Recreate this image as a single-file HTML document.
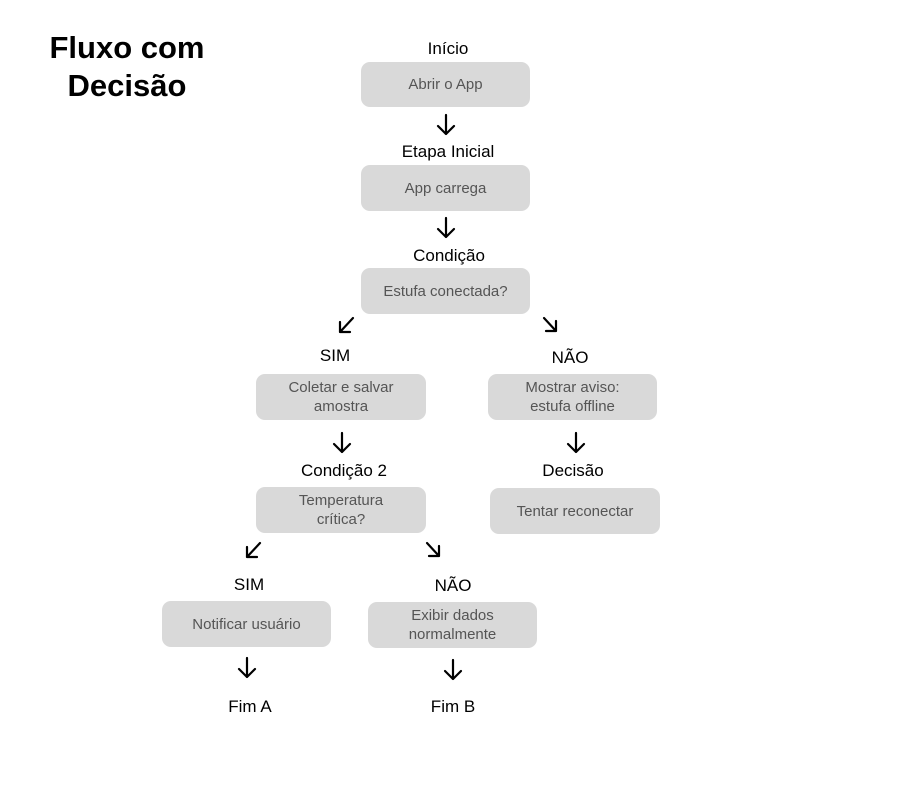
<!DOCTYPE html>
<html><head><meta charset="utf-8"><style>
body{margin:0;width:916px;height:794px;background:#fff;position:relative;overflow:hidden;font-family:"Liberation Sans",sans-serif}
.t{position:absolute;font-size:31px;font-weight:bold;line-height:38px;text-align:center;left:27px;width:200px;top:29px;color:#000}
.b{position:absolute;background:#d9d9d9;border-radius:9px;color:#555;font-size:15px;line-height:19px;display:flex;align-items:center;justify-content:center;text-align:center}
.l{position:absolute;font-size:17px;color:#000;transform:translate(-50%,-50%);white-space:nowrap}
svg{position:absolute;left:0;top:0}
</style></head><body>
<div class="t">Fluxo com<br>Decisão</div>
<div class="l" style="left:448px;top:49px">Início</div>
<div class="b" style="left:361px;top:62px;width:169px;height:45px">Abrir o App</div>
<div class="l" style="left:448px;top:152px">Etapa Inicial</div>
<div class="b" style="left:361px;top:165px;width:169px;height:46px">App carrega</div>
<div class="l" style="left:449px;top:256px">Condição</div>
<div class="b" style="left:361px;top:268px;width:169px;height:46px">Estufa conectada?</div>
<div class="l" style="left:335px;top:356px">SIM</div>
<div class="l" style="left:570px;top:358px">NÃO</div>
<div class="b" style="left:256px;top:374px;width:170px;height:46px">Coletar e salvar<br>amostra</div>
<div class="b" style="left:488px;top:374px;width:169px;height:46px">Mostrar aviso:<br>estufa offline</div>
<div class="l" style="left:344px;top:471px">Condição 2</div>
<div class="l" style="left:573px;top:471px">Decisão</div>
<div class="b" style="left:256px;top:487px;width:170px;height:46px">Temperatura<br>crítica?</div>
<div class="b" style="left:490px;top:488px;width:170px;height:46px">Tentar reconectar</div>
<div class="l" style="left:249px;top:585px">SIM</div>
<div class="l" style="left:453px;top:586px">NÃO</div>
<div class="b" style="left:162px;top:601px;width:169px;height:46px">Notificar usuário</div>
<div class="b" style="left:368px;top:602px;width:169px;height:46px">Exibir dados<br>normalmente</div>
<div class="l" style="left:250px;top:707px">Fim A</div>
<div class="l" style="left:453px;top:707px">Fim B</div>
<svg width="916" height="794" fill="none" stroke="#000" stroke-width="2.2" stroke-linecap="round" stroke-linejoin="round">
<path d="M446 115v19M438 126l8 8 8-8"/>
<path d="M446 218v19M438 229l8 8 8-8"/>
<path d="M353 318l-13 14M340 322v10h10"/>
<path d="M544 318l12 13M556 321v10h-10"/>
<path d="M342 433v19M334 444l8 8 8-8"/>
<path d="M576 433v19M568 444l8 8 8-8"/>
<path d="M260 543l-13 14M247 547v10h10"/>
<path d="M427 543l12 13M439 546v10h-10"/>
<path d="M247 658v19M239 669l8 8 8-8"/>
<path d="M453 660v19M445 671l8 8 8-8"/>
</svg>
</body></html>
